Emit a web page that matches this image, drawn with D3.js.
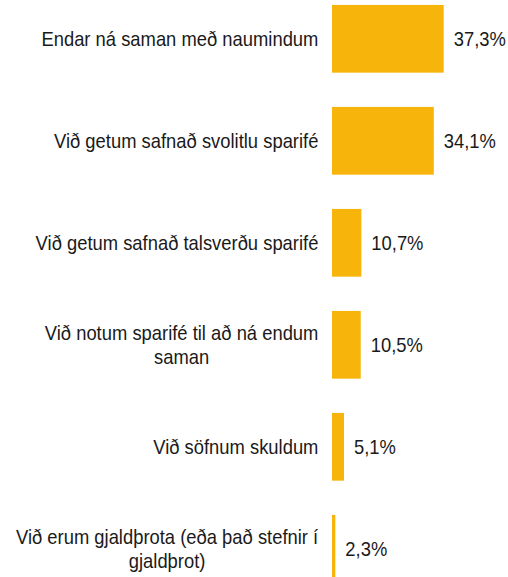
<!DOCTYPE html>
<html>
<head>
<meta charset="utf-8">
<script src="https://cdn.jsdelivr.net/npm/d3@7"></script>
<style>
  html, body { margin: 0; padding: 0; background: #fff; }
  svg { display: block; }
  text { font-family: "Liberation Sans", Arial, sans-serif; }
</style>
</head>
<body>
<svg id="chart" width="508" height="577"></svg>
<script>
const categories = [
  "Endar ná saman með naumindum",
  "Við getum safnað svolitlu sparifé",
  "Við getum safnað talsverðu sparifé",
  "Við notum sparifé til að ná endum\nsaman",
  "Við söfnum skuldum",
  "Við erum gjaldþrota (eða það stefnir í\ngjaldþrot)"
];
const values = [37.3, 34.1, 10.7, 10.5, 5.1, 2.3];
const valueLabels = ["37,3%", "34,1%", "10,7%", "10,5%", "5,1%", "2,3%"];

const W = 508, H = 577;
const svg = d3.select("#chart");
const fontSize = 20, sx = 0.92, lineH = 24;
const barColor = "#F7B40B", textColor = "#1a1a1a";

const x = d3.scaleLinear().domain([0, 37.3]).range([328.2, 443.7]);
const y = d3.scaleBand().domain(d3.range(categories.length))
  .range([-12.2, 599.8]).paddingInner(0.336).paddingOuter(0.168);

const gap = x(0) + 3.8; // visible bar start (white gap at axis)

// bars
svg.append("g").selectAll("rect").data(values).join("rect")
  .attr("x", gap)
  .attr("y", (d, i) => y(i))
  .attr("width", d => Math.max(0, x(d) - gap))
  .attr("height", y.bandwidth())
  .attr("fill", barColor);

// value labels
svg.append("g").selectAll("text").data(values).join("text")
  .attr("transform", (d, i) => `translate(${x(d) + 10},${y(i) + y.bandwidth() / 2 + 0.35 * fontSize}) scale(${sx},1)`)
  .attr("font-size", fontSize)
  .attr("fill", textColor)
  .text((d, i) => valueLabels[i]);

// category labels
const labelRight = 318.5;
const gl = svg.append("g");
categories.forEach((c, i) => {
  const lines = c.split("\n");
  const cy = y(i) + y.bandwidth() / 2;
  const g = gl.append("g");
  const t = g.append("text")
    .attr("font-size", fontSize)
    .attr("fill", textColor)
    .attr("text-anchor", "middle");
  lines.forEach((ln, k) => {
    t.append("tspan").attr("x", 0)
      .attr("y", 0.36 * fontSize + (k - (lines.length - 1) / 2) * lineH)
      .text(ln);
  });
  const w = t.node().getBBox().width * sx;
  g.attr("transform", `translate(${labelRight - w / 2},${cy}) scale(${sx},1)`);
});
</script>
</body>
</html>
